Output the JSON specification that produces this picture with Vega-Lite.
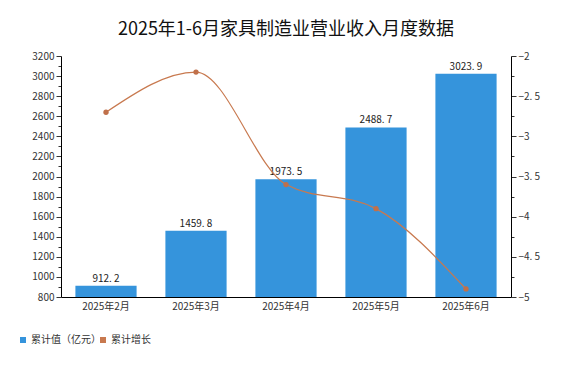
{
  "$schema": "https://vega.github.io/schema/vega-lite/v6.json",
  "width": 450,
  "height": 241,
  "autosize": "none",
  "padding": {"left": 61, "top": 56, "right": 60, "bottom": 72},
  "background": "white",
  "title": {
    "text": "2025年1-6月家具制造业营业收入月度数据",
    "font": "Noto Sans CJK SC",
    "fontSize": 18,
    "fontWeight": "normal",
    "color": "#111111",
    "anchor": "middle",
    "offset": 12
  },
  "config": {
    "view": {"stroke": null},
    "font": "Noto Sans CJK SC",
    "axis": {"grid": false, "domainColor": "#000000", "labelColor": "#333333", "labelFontSize": 10, "labelFont": "Noto Sans CJK SC", "tickColor": "#333333", "titleFontSize": 10, "labelOverlap": false}
  },
  "data": {
    "values": [
      {"month": "2025年2月", "value": 912.2, "label": "912. 2", "growth": -2.7},
      {"month": "2025年3月", "value": 1459.8, "label": "1459. 8", "growth": -2.2},
      {"month": "2025年4月", "value": 1973.5, "label": "1973. 5", "growth": -3.6},
      {"month": "2025年5月", "value": 2488.7, "label": "2488. 7", "growth": -3.9},
      {"month": "2025年6月", "value": 3023.9, "label": "3023. 9", "growth": -4.9}
    ]
  },
  "encoding": {
    "x": {
      "field": "month",
      "type": "nominal",
      "sort": null,
      "scale": {"paddingInner": 0.32, "paddingOuter": 0.16},
      "axis": {"title": null, "labelAngle": 0, "ticks": false, "labelPadding": 4, "domainColor": "#000000"}
    }
  },
  "layer": [
    {
      "encoding": {
        "y": {
          "field": "value",
          "type": "quantitative",
          "scale": {"domain": [800, 3200], "clamp": true, "zero": false, "nice": false},
          "axis": {
            "title": null,
            "orient": "left",
            "values": [800, 900, 1000, 1100, 1200, 1300, 1400, 1500, 1600, 1700, 1800, 1900, 2000, 2100, 2200, 2300, 2400, 2500, 2600, 2700, 2800, 2900, 3000, 3100, 3200],
            "format": "d",
            "labelOverlap": false,
            "labelExpr": "datum.value % 200 === 0 ? datum.label : ''",
            "tickSize": {"condition": {"test": "datum.value % 200 === 0", "value": 5}, "value": 3},
            "labelPadding": 2
          }
        }
      },
      "layer": [
        {
          "mark": {"type": "bar", "color": "#3594dc"},
          "encoding": {
            "fill": {
              "datum": "累计值（亿元）",
              "type": "nominal",
              "scale": {"domain": ["累计值（亿元）"], "range": ["#3594dc"]},
              "legend": {
                "title": null,
                "orient": "none",
                "legendX": -43,
                "legendY": 279,
                "symbolType": "square",
                "symbolSize": 36,
                "labelFontSize": 10,
                "labelColor": "#333333",
                "labelOffset": 3
              }
            }
          }
        },
        {
          "mark": {"type": "text", "baseline": "bottom", "dy": -2, "fontSize": 10, "color": "#222222", "font": "Noto Sans CJK SC"},
          "encoding": {
            "text": {"field": "label", "type": "nominal"}
          }
        }
      ]
    },
    {
      "encoding": {
        "y": {
          "field": "growth",
          "type": "quantitative",
          "scale": {"domain": [-5, -2], "zero": false, "nice": false},
          "axis": {
            "title": null,
            "orient": "right",
            "values": [-5, -4.75, -4.5, -4.25, -4, -3.75, -3.5, -3.25, -3, -2.75, -2.5, -2.25, -2],
            "labelOverlap": false,
            "labelExpr": "(datum.value * 2) % 1 === 0 ? replace(format(datum.value, ''), '.', '. ') : ''",
            "tickSize": {"condition": {"test": "(datum.value * 2) % 1 === 0", "value": 5}, "value": 3},
            "labelPadding": 2
          }
        }
      },
      "layer": [
        {
          "mark": {"type": "line", "interpolate": "monotone", "strokeWidth": 1.2},
          "encoding": {
            "stroke": {
              "datum": "累计增长",
              "type": "nominal",
              "scale": {"domain": ["累计增长"], "range": ["#c8794f"]},
              "legend": {
                "title": null,
                "orient": "none",
                "legendX": 37,
                "legendY": 279,
                "symbolType": "square",
                "symbolSize": 36,
                "symbolFillColor": "#c8794f",
                "symbolStrokeWidth": 0,
                "labelFontSize": 10,
                "labelColor": "#333333",
                "labelOffset": 3
              }
            }
          }
        },
        {
          "mark": {"type": "point", "filled": true, "size": 28, "color": "#c0704a", "opacity": 1},
          "encoding": {}
        }
      ]
    }
  ],
  "resolve": {"scale": {"y": "independent", "fill": "independent", "stroke": "independent"}}
}
